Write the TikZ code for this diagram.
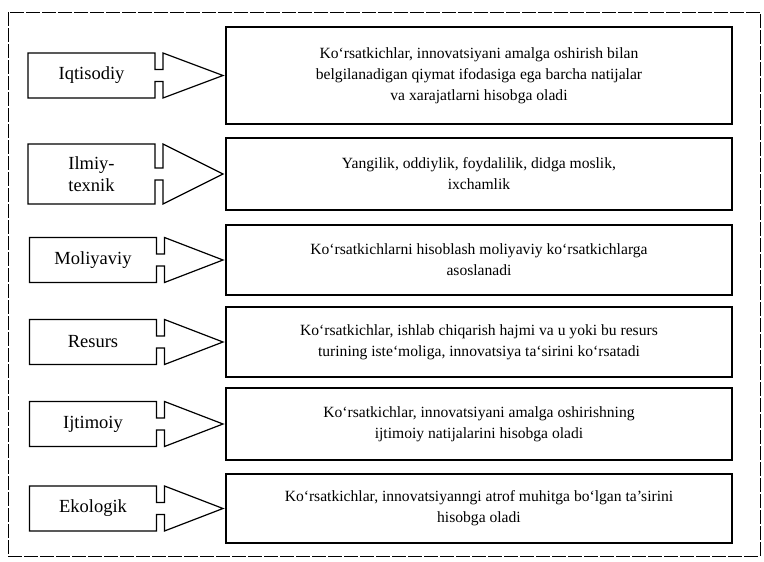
\documentclass[tikz,border=0pt]{standalone}
\usepackage{fontspec}
\setmainfont{Liberation Serif}
\usetikzlibrary{calc}

\tikzset{
  lblbox/.style={minimum width=127pt, minimum height=45pt, outer sep=0pt,
    align=center, font=\fontsize{18.5}{22}\selectfont},
  txtbox/.style={draw, line width=1.2pt, minimum width=506pt, outer sep=0pt,
    align=center, font=\fontsize{15.6}{21}\selectfont},
  outline/.style={line width=1.2pt, line join=miter},
}

\begin{document}
\begin{tikzpicture}[x=1pt, y=-1pt]
  \useasboundingbox (0,0) rectangle (764,562);
  % Outer frame
  \draw[line width=0.6pt, dash pattern=on 14pt off 2pt] (8,12) rectangle (760,556);
  % Text boxes
  \node[txtbox, minimum height=97pt] (t1) at (479,75.5)
    {Ko‘rsatkichlar, innovatsiyani amalga oshirish bilan\\
     belgilanadigan qiymat ifodasiga ega barcha natijalar\\
     va xarajatlarni hisobga oladi};
  \node[txtbox, minimum height=72pt] (t2) at (479,174)
    {Yangilik, oddiylik, foydalilik, didga moslik,\\ ixchamlik};
  \node[txtbox, minimum height=70pt] (t3) at (479,260)
    {Ko‘rsatkichlarni hisoblash moliyaviy ko‘rsatkichlarga\\ asoslanadi};
  \node[txtbox, minimum height=70pt] (t4) at (479,342)
    {Ko‘rsatkichlar, ishlab chiqarish hajmi va u yoki bu resurs\\
     turining iste‘moliga, innovatsiya ta‘sirini ko‘rsatadi};
  \node[txtbox, minimum height=72pt] (t5) at (479,424)
    {Ko‘rsatkichlar, innovatsiyani amalga oshirishning\\
     ijtimoiy natijalarini hisobga oladi};
  \node[txtbox, minimum height=69pt] (t6) at (479,508.5)
    {Ko‘rsatkichlar, innovatsiyanngi atrof muhitga bo‘lgan ta’sirini\\
     hisobga oladi};
  % Labels
  \node[lblbox] (l1) at (91.5,75.5) {Iqtisodiy};
  \node[lblbox, minimum height=60pt] (l2) at (91.5,174) {Ilmiy-\\texnik};
  \node[lblbox] (l3) at (93,260) {Moliyaviy};
  \node[lblbox] (l4) at (93,342) {Resurs};
  \node[lblbox] (l5) at (93,424) {Ijtimoiy};
  \node[lblbox] (l6) at (93,508.5) {Ekologik};
  % Notched arrows
  \foreach \i in {1,...,6}
    \draw[outline] (l\i.south west) -- (l\i.north west) -- (l\i.north east)
      -- ($(l\i.east)+(0,-6)$) -- ++(8,0) -- ($(l\i.north east)+(8,0)$)
      -- ($(t\i.west)+(-3,0)$)
      -- ($(l\i.south east)+(8,0)$) -- ($(l\i.east)+(8,6)$)
      -- ($(l\i.east)+(0,6)$) -- (l\i.south east) -- cycle;
\end{tikzpicture}
\end{document}
